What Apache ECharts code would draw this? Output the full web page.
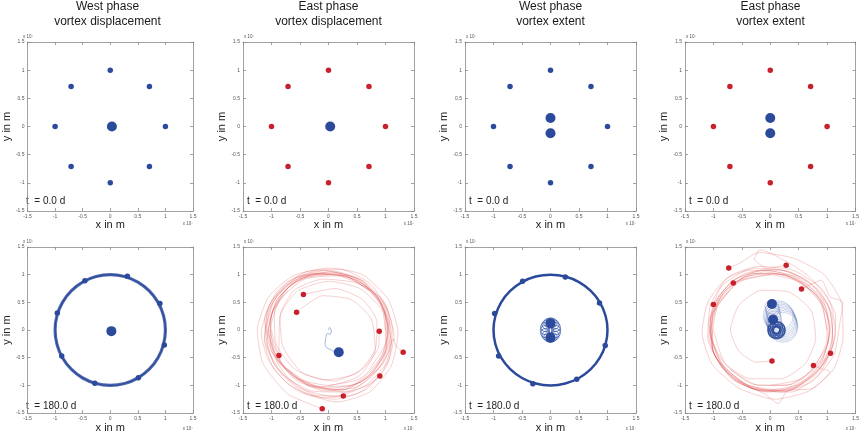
<!DOCTYPE html>
<html>
<head>
<meta charset="utf-8">
<script src="https://cdn.jsdelivr.net/npm/echarts/dist/echarts.min.js"></script>
<style>
  html, body { margin: 0; padding: 0; background: #fff; }
  #chart { width: 862px; height: 434px; }
</style>
</head>
<body>
<div id="chart"></div>
<script>
// positions in units of 10^7 m
var panelTitles = ['West phase\nvortex displacement', 'East phase\nvortex displacement',
                   'West phase\nvortex extent', 'East phase\nvortex extent'];
var timeLabels = ['t  = 0.0 d', 't  = 180.0 d'];
var axisExponent = 'x 10\u2077';

// t = 0: eight satellite vortices on a ring, core vortex (or two) in the middle
var ringStart = [[1,0],[0.71,0.71],[0,1],[-0.71,0.71],[-1,0],[-0.71,-0.71],[0,-1],[0.71,-0.71]];
var coreDisp0 = [[0.03,0]];
var coreExtent0 = [[0,0.15],[0,-0.12]];

// t = 180 d, west phase displacement
var westDispEnd = [[0.31,0.97],[-0.46,0.89],[0.90,0.48],[-0.96,0.31],[0.98,-0.27],[-0.88,-0.47],[0.51,-0.86],[-0.28,-0.96]];
var westDispCore = [[0.02,-0.02]];
var westRing = [[1,0],[0.966,0.259],[0.866,0.5],[0.707,0.707],[0.5,0.866],[0.259,0.966],[0,1],
                [-0.259,0.966],[-0.5,0.866],[-0.707,0.707],[-0.866,0.5],[-0.966,0.259],[-1,0],
                [-0.966,-0.259],[-0.866,-0.5],[-0.707,-0.707],[-0.5,-0.866],[-0.259,-0.966],[0,-1],
                [0.259,-0.966],[0.5,-0.866],[0.707,-0.707],[0.866,-0.5],[0.966,-0.259],[1,0]];

// t = 180 d, west phase extent
var westExtEnd = [[0.26,0.96],[-0.49,0.88],[0.86,0.49],[-0.98,0.30],[0.96,-0.28],[-0.91,-0.47],[0.46,-0.89],[-0.31,-0.97]];
var westExtCore = [[0,0.12],[0,-0.14]];
var westExtCircles = [[0.1,0],[0.092,0.054],[0.071,0.099],[0.038,0.129],[0,0.14],[-0.038,0.129],[-0.071,0.099],
                      [-0.092,0.054],[-0.1,0],[-0.092,-0.054],[-0.071,-0.099],[-0.038,-0.129],[0,-0.14],
                      [0.038,-0.129],[0.071,-0.099],[0.092,-0.054]];

// t = 180 d, east phase displacement
var eastDispEnd = [[0.89,-0.02],[1.31,-0.40],[-0.44,0.64],[-0.56,0.32],[-0.87,-0.46],[-0.11,-1.42],[0.26,-1.19],[0.90,-0.83]];
var eastDispCore = [[0.18,-0.40]];
var eastDispCoreTrack = [[0,0],[0.02,0.05],[0.05,-0.02],[0.03,-0.08],[-0.02,-0.06],[-0.05,-0.15],[-0.06,-0.25],
                         [-0.03,-0.32],[0.05,-0.36],[0.12,-0.4],[0.18,-0.4]];
var eastDispTracks = [
  [[1,0],[0.92,0.48],[0.55,0.92],[0,1.08],[-0.55,0.95],[-0.98,0.5],[-1.1,-0.05],[-0.95,-0.62],[-0.5,-1.05],[0.1,-1.2],[0.65,-1.0],[1.05,-0.55],[1.12,0.02],[0.95,0.55],[0.5,0.85],[-0.1,0.92],[-0.6,0.72],[-0.85,0.25],[-0.8,-0.3],[-0.45,-0.78],[0.1,-0.92],[0.6,-0.7],[0.88,-0.3],[0.89,-0.02]],
  [[0.71,0.71],[0.3,0.98],[-0.25,1.02],[-0.75,0.8],[-1.05,0.35],[-1.12,-0.2],[-0.95,-0.72],[-0.5,-1.12],[0.1,-1.25],[0.65,-1.08],[1.02,-0.65],[1.15,-0.1],[1.0,0.45],[0.62,0.88],[0.05,1.05],[-0.5,0.95],[-0.92,0.6],[-1.08,0.05],[-0.92,-0.5],[-0.55,-0.88],[0,-1.05],[0.55,-0.95],[0.95,-0.62],[1.14,-0.16],[1.18,-0.28],[1.31,-0.4]],
  [[0,1],[-0.5,0.92],[-0.9,0.55],[-1.05,0],[-0.9,-0.55],[-0.45,-0.95],[0.1,-1.08],[0.62,-0.9],[0.98,-0.45],[1.05,0.1],[0.82,0.62],[0.35,0.95],[-0.2,1.02],[-0.68,0.8],[-0.95,0.32],[-0.92,-0.25],[-0.6,-0.7],[-0.05,-0.9],[0.5,-0.78],[0.82,-0.35],[0.85,0.15],[0.6,0.55],[0.12,0.75],[-0.44,0.64]],
  [[-0.71,0.71],[-1.0,0.3],[-1.08,-0.25],[-0.8,-0.8],[-0.3,-1.1],[0.3,-1.12],[0.8,-0.8],[1.08,-0.3],[1.05,0.3],[0.75,0.82],[0.2,1.1],[-0.4,1.05],[-0.88,0.72],[-1.12,0.2],[-1.0,-0.38],[-0.6,-0.85],[0,-1.0],[0.55,-0.82],[0.82,-0.35],[0.75,0.2],[0.4,0.55],[-0.1,0.62],[-0.56,0.32]],
  [[-1,0],[-0.82,-0.6],[-0.35,-1.0],[0.25,-1.08],[0.78,-0.75],[1.05,-0.2],[0.98,0.4],[0.6,0.88],[0.05,1.05],[-0.55,0.95],[-0.98,0.55],[-1.18,-0.05],[-1.05,-0.55],[-0.68,-1.0],[-0.1,-1.22],[0.5,-1.15],[0.95,-0.75],[1.1,-0.2],[0.95,0.35],[0.55,0.75],[0,0.88],[-0.55,0.7],[-0.85,0.25],[-0.87,-0.46]],
  [[-0.71,-0.71],[-0.2,-1.02],[0.4,-1.0],[0.85,-0.62],[1.05,-0.05],[0.9,0.55],[0.45,0.95],[-0.15,1.08],[-0.7,0.88],[-1.05,0.42],[-1.12,-0.15],[-0.9,-0.7],[-0.45,-1.12],[0.15,-1.3],[0.72,-1.12],[1.1,-0.65],[1.22,-0.05],[1.05,0.55],[0.6,1.0],[0,1.12],[-0.62,0.98],[-1.05,0.6],[-1.25,0],[-1.15,-0.6],[-0.72,-1.15],[-0.11,-1.42]],
  [[0,-1],[0.55,-0.88],[0.95,-0.45],[1.05,0.12],[0.82,0.65],[0.32,0.98],[-0.28,1.0],[-0.78,0.7],[-1.02,0.18],[-0.95,-0.4],[-0.6,-0.88],[-0.05,-1.1],[0.52,-1.02],[0.92,-0.62],[1.1,-0.05],[0.95,0.5],[0.5,0.9],[-0.1,1.02],[-0.65,0.82],[-0.98,0.35],[-1.02,-0.28],[-0.72,-0.85],[-0.22,-1.18],[0.26,-1.19]],
  [[0.71,-0.71],[1.0,-0.22],[0.98,0.35],[0.62,0.82],[0.1,1.02],[-0.48,0.95],[-0.9,0.55],[-1.05,-0.02],[-0.85,-0.58],[-0.35,-0.98],[0.25,-1.08],[0.75,-0.8],[1.02,-0.3],[1.0,0.28],[0.68,0.75],[0.15,0.98],[-0.42,0.92],[-0.85,0.55],[-1.02,0],[-0.82,-0.6],[-0.35,-1.0],[0.3,-1.12],[0.72,-0.98],[0.9,-0.83]]
];

// t = 180 d, east phase extent
var eastExtEnd = [[1.06,-0.42],[0.28,1.17],[-0.73,1.12],[-0.65,0.85],[-1.0,0.46],[0.03,-0.56],[0.76,-0.64],[0.55,0.74]];
var eastExtCore = [[0.03,0.47],[0.05,0.19]];
var eastExtCirclesLarge = [[0.14,0.26],[0.16,0.23],[0.18,0.2],[0.19,0.17],[0.2,0.14],[0.21,0.11],[0.22,0.08],[0.22,0.05]];
var eastExtCirclesMid = [[0.03,0.42],[0.04,0.37],[0.05,0.32],[0.06,0.27],[0.07,0.22],[0.08,0.14],[0.09,0.08]];
var eastExtCirclesDense = [[0.16,0],[0.145,0.035],[0.11,0.05],[0.075,0.035],[0.06,0],[0.075,-0.035],[0.11,-0.05],[0.145,-0.035]];
var eastExtTracks = [
  [[1,0],[0.88,0.52],[0.45,0.95],[-0.12,1.08],[-0.65,0.9],[-1.0,0.45],[-1.08,-0.12],[-0.85,-0.68],[-0.35,-1.05],[0.25,-1.1],[0.78,-0.8],[1.1,-0.3],[1.15,0.25],[0.9,0.75],[0.4,1.08],[-0.2,1.15],[-0.75,0.95],[-1.05,0.45],[-1.1,-0.15],[-0.8,-0.72],[-0.25,-1.08],[0.38,-1.12],[0.85,-0.8],[1.06,-0.42]],
  [[0.71,0.71],[0.25,1.0],[-0.3,1.02],[-0.8,0.7],[-1.05,0.15],[-0.98,-0.45],[-0.6,-0.92],[-0.05,-1.12],[0.5,-1.0],[0.95,-0.6],[1.15,-0.05],[1.05,0.5],[0.7,0.95],[0.35,1.2],[-0.18,1.45],[-0.28,1.28],[-0.05,1.12],[0.28,1.17]],
  [[0,1],[-0.52,0.88],[-0.92,0.48],[-1.05,-0.08],[-0.85,-0.62],[-0.38,-1.0],[0.2,-1.08],[0.72,-0.82],[1.05,-0.35],[1.1,0.2],[0.85,0.72],[0.35,1.05],[-0.25,1.12],[-0.78,0.92],[-1.1,0.5],[-1.2,-0.05],[-1.02,-0.62],[-0.55,-1.05],[0.08,-1.25],[0.68,-1.1],[1.12,-0.7],[1.28,-0.12],[1.25,0.5],[0.95,1.0],[0.4,1.3],[-0.2,1.4],[-0.55,1.2],[-0.73,1.12]],
  [[-0.71,0.71],[-1.02,0.25],[-1.02,-0.32],[-0.7,-0.85],[-0.15,-1.1],[0.42,-1.05],[0.88,-0.68],[1.1,-0.12],[1.02,0.45],[0.65,0.9],[0.1,1.1],[-0.45,1.02],[-0.88,0.65],[-1.08,0.12],[-0.98,-0.45],[-0.6,-0.9],[-0.05,-1.08],[0.5,-0.98],[0.9,-0.58],[1.05,0],[0.88,0.55],[0.45,0.92],[-0.1,1.05],[-0.65,0.85]],
  [[-1,0],[-0.8,-0.6],[-0.3,-0.98],[0.28,-1.0],[0.75,-0.7],[1.0,-0.15],[0.92,0.42],[0.55,0.85],[0,1.0],[-0.55,0.88],[-0.92,0.45],[-1.02,-0.12],[-0.8,-0.68],[-0.3,-1.05],[0.3,-1.1],[0.8,-0.8],[1.1,-0.25],[1.05,0.35],[0.72,0.82],[0.2,1.08],[-0.38,1.08],[-0.85,0.8],[-1.0,0.46]],
  [[-0.71,-0.71],[-0.2,-1.0],[0.38,-0.98],[0.85,-0.62],[1.05,-0.05],[0.92,0.55],[0.48,0.95],[-0.1,1.08],[-0.65,0.9],[-0.98,0.45],[-1.05,-0.1],[-0.8,-0.6],[-0.35,-0.88],[0.2,-0.88],[0.62,-0.6],[0.8,-0.15],[0.72,0.35],[0.35,0.68],[-0.15,0.72],[-0.55,0.45],[-0.7,0],[-0.55,-0.38],[-0.25,-0.58],[0.03,-0.56]],
  [[0,-1],[0.55,-0.88],[0.95,-0.45],[1.05,0.1],[0.82,0.62],[0.32,0.98],[-0.28,1.02],[-0.78,0.72],[-1.05,0.2],[-1.0,-0.4],[-0.65,-0.9],[-0.1,-1.15],[0.14,-1.33],[0.3,-1.1],[0.75,-1.05],[1.05,-0.75],[0.9,-0.7],[0.76,-0.64]],
  [[0.71,-0.71],[1.02,-0.22],[1.0,0.35],[0.65,0.82],[0.1,1.02],[-0.48,0.95],[-0.9,0.55],[-1.05,0],[-0.88,-0.58],[-0.42,-1.0],[0.2,-1.12],[0.75,-0.92],[1.12,-0.45],[1.22,0.1],[1.28,0.5],[1.05,0.6],[0.9,0.9],[0.55,0.74]]
];

var chart = echarts.init(document.getElementById('chart'));

var FONT = '"Liberation Sans", Arial, sans-serif';
var BLUE = '#2b4a9b';
var RED = '#c9212b';
var TRACK_RED = 'rgba(220,60,60,0.45)';
var AXIS_GREY = '#8a8a8a';

// panel layout: 4 columns x 2 rows
var gridLeft = [22, 243, 465, 685];
var gridTop = [42, 247];
var gridW = 171, gridH = 169;

var grids = [], xAxes = [], yAxes = [], series = [], graphics = [];

function makeAxis(p, pos, main, name) {
  return {
    type: 'value',
    gridIndex: p,
    position: pos,
    min: -1.5,
    max: 1.5,
    interval: 0.5,
    name: main ? name : '',
    nameLocation: 'middle',
    nameGap: 8,
    nameTextStyle: { fontSize: 11, color: '#222', fontFamily: FONT },
    axisLine: { onZero: false, lineStyle: { color: AXIS_GREY, width: 0.8 } },
    axisTick: { inside: true, length: 3, lineStyle: { color: AXIS_GREY, width: 0.8 } },
    axisLabel: { show: main, fontSize: 5, color: '#555', margin: 3, fontFamily: FONT },
    splitLine: { show: false }
  };
}

for (var p = 0; p < 8; p++) {
  var row = Math.floor(p / 4), col = p % 4;
  grids.push({ left: gridLeft[col], top: gridTop[row], width: gridW, height: gridH });
  xAxes.push(makeAxis(p, 'bottom', true, 'x in m'));
  xAxes.push(makeAxis(p, 'top', false));
  yAxes.push(makeAxis(p, 'left', true, 'y in m'));
  yAxes.push(makeAxis(p, 'right', false));

  // exponent markers
  graphics.push({ type: 'text', x: gridLeft[col] + 1, y: gridTop[row] - 5,
    style: { text: axisExponent, fontSize: 4.5, fill: '#555', fontFamily: FONT,
             textAlign: 'left', textVerticalAlign: 'middle', align: 'left', verticalAlign: 'middle' } });
  graphics.push({ type: 'text', x: gridLeft[col] + gridW, y: gridTop[row] + gridH + 13,
    style: { text: axisExponent, fontSize: 4.5, fill: '#555', fontFamily: FONT,
             textAlign: 'right', textVerticalAlign: 'middle', align: 'right', verticalAlign: 'middle' } });
  // time stamp
  graphics.push({ type: 'text', x: gridLeft[col] + 4, y: gridTop[row] + gridH - 10,
    style: { text: timeLabels[row], fontSize: 10, fill: '#222', fontFamily: FONT,
             textAlign: 'left', textVerticalAlign: 'middle', align: 'left', verticalAlign: 'middle' } });
}

for (var c = 0; c < 4; c++) {
  graphics.push({ type: 'text', x: gridLeft[c] + gridW / 2, y: -1,
    style: { text: panelTitles[c], fontSize: 12, lineHeight: 15, fill: '#1a1a1a', fontFamily: FONT,
             textAlign: 'center', textVerticalAlign: 'top', align: 'center', verticalAlign: 'top' } });
}

function dots(p, data, color, size) {
  series.push({ type: 'scatter', xAxisIndex: 2 * p, yAxisIndex: 2 * p, data: data,
    symbol: 'circle', symbolSize: size, z: 4, itemStyle: { color: color, opacity: 1 } });
}
function track(p, data, color, width, smooth) {
  series.push({ type: 'line', xAxisIndex: 2 * p, yAxisIndex: 2 * p, data: data,
    symbol: 'none', smooth: smooth, z: 2, lineStyle: { color: color, width: width } });
}
function rings(p, data, size, width, color) {
  series.push({ type: 'scatter', xAxisIndex: 2 * p, yAxisIndex: 2 * p, data: data,
    symbol: 'circle', symbolSize: size, z: 3,
    itemStyle: { color: 'rgba(0,0,0,0)', borderColor: color || BLUE, borderWidth: width } });
}

// top row, t = 0
dots(0, ringStart, BLUE, 5.5);  dots(0, coreDisp0, BLUE, 10);
dots(1, ringStart, RED, 5.5);   dots(1, coreDisp0, BLUE, 10);
dots(2, ringStart, BLUE, 5.5);  dots(2, coreExtent0, BLUE, 10);
dots(3, ringStart, RED, 5.5);   dots(3, coreExtent0, BLUE, 10);

// bottom row, t = 180 d
track(4, westRing, 'rgba(52,82,160,0.85)', 3.2, true);
track(4, westRing, BLUE, 1.2, true);
dots(4, westDispEnd, BLUE, 5.5); dots(4, westDispCore, BLUE, 10);

eastDispTracks.forEach(function (t) { track(5, t, TRACK_RED, 0.55, 0.2); });
track(5, eastDispCoreTrack, '#6a84c4', 0.6, 0.3);
dots(5, eastDispEnd, RED, 5.5); dots(5, eastDispCore, BLUE, 10);

track(6, westRing, BLUE, 2.5, true);
rings(6, westExtCircles, 9, 1.0, '#3a5aa8');
dots(6, westExtEnd, BLUE, 5.5); dots(6, westExtCore, BLUE, 10);

eastExtTracks.forEach(function (t) { track(7, t, TRACK_RED, 0.55, 0.2); });
rings(7, eastExtCirclesLarge, 30, 0.35, '#4a66b0');
rings(7, eastExtCirclesMid, 14, 0.4, '#4a66b0');
rings(7, eastExtCirclesDense, 12, 1.3);
dots(7, eastExtEnd, RED, 5.5); dots(7, eastExtCore, BLUE, 10);

chart.setOption({
  animation: false,
  textStyle: { fontFamily: FONT },
  grid: grids,
  xAxis: xAxes,
  yAxis: yAxes,
  graphic: graphics,
  series: series
});
</script>
</body>
</html>
